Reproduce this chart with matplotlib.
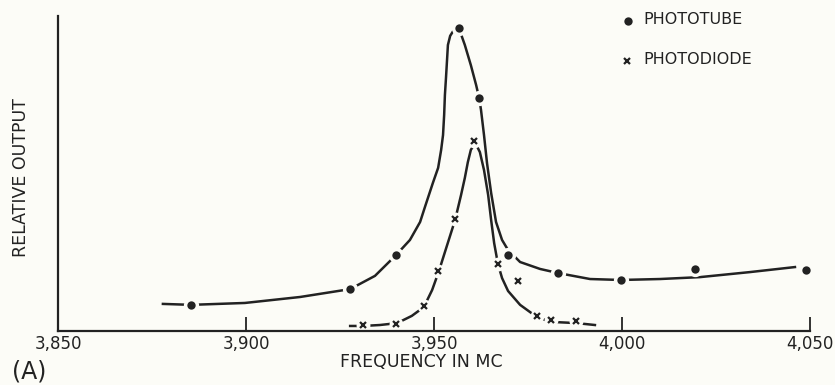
import numpy as np
import matplotlib
matplotlib.use('Agg')
import matplotlib.pyplot as plt
from matplotlib.lines import Line2D

# measured points (frequency in MC, relative output 0-100)
tube_f = [3885.4, 3927.7, 3939.9, 3956.6, 3962.0, 3969.7, 3983.0, 3999.7, 4019.4, 4048.9]
tube_y = [8.3, 13.3, 24.1, 96.2, 74.0, 24.1, 18.4, 16.2, 19.7, 19.4]

diode_f = [3931.1, 3939.9, 3947.3, 3951.1, 3955.6, 3960.6, 3967.0, 3972.3, 3977.4, 3981.1, 3987.8]
diode_y = [1.9, 2.2, 7.9, 19.0, 35.6, 60.3, 21.3, 15.9, 4.8, 3.5, 3.2]

# hand drawn curves
tube_curve_f = [3877.9, 3885.4, 3899.7, 3914.4, 3927.7, 3934.3, 3939.9, 3943.6, 3946.3, 3947.6,
                3949.7, 3951.1, 3951.9, 3952.4, 3952.7, 3952.9, 3953.2, 3953.5, 3953.7, 3954.3,
                3955.1, 3956.6, 3958.2, 3959.8, 3961.2, 3962.0, 3962.5, 3963.3, 3964.1, 3965.2,
                3966.5, 3968.1, 3969.7, 3972.9, 3978.2, 3983.0, 3991.5, 3999.7, 4010.1, 4020.7,
                4034.0, 4046.0]
tube_curve_y = [8.6, 8.3, 8.9, 10.8, 13.3, 17.5, 24.1, 28.9, 34.6, 39.4,
                47.0, 51.8, 57.5, 62.2, 68.6, 74.9, 80.6, 86.7, 90.8, 93.7,
                95.2, 96.2, 90.8, 84.4, 78.1, 74.0, 70.2, 62.2, 53.3, 43.8,
                34.6, 28.9, 25.7, 21.9, 19.7, 18.4, 16.5, 16.2, 16.5, 17.1,
                18.7, 20.3]

diode_curve_f = [3927.7, 3931.1, 3935.6, 3940.2, 3944.1, 3947.3, 3949.5, 3951.3, 3953.5, 3955.6,
                 3957.2, 3958.2, 3959.0, 3959.8, 3960.6, 3961.4, 3962.2, 3963.3, 3964.4, 3965.2,
                 3966.0, 3967.0, 3968.1, 3969.7, 3972.9, 3977.4, 3981.1, 3988.0, 3992.8]
diode_curve_y = [1.6, 1.6, 1.9, 2.5, 4.8, 7.6, 13.0, 19.0, 27.3, 35.2,
                 43.2, 48.6, 53.6, 57.5, 59.0, 58.7, 56.8, 51.1, 43.2, 35.2,
                 27.9, 21.3, 16.8, 12.7, 8.3, 4.4, 2.9, 2.5, 1.9]

xticks = [3850, 3900, 3950, 4000, 4050]
xtick_labels = ['3,850', '3,900', '3,950', '4,000', '4,050']

bg = '#fcfcf7'
ink = '#222222'

fig = plt.figure(figsize=(8.35, 3.85), dpi=100, facecolor=bg)
ax = fig.add_axes([58/835, 54/385, 752/835, 315/385])
ax.set_facecolor(bg)

ax.plot(tube_curve_f, tube_curve_y, color=ink, lw=1.8, solid_joinstyle='round')
ax.plot(diode_curve_f, diode_curve_y, color=ink, lw=1.8, solid_joinstyle='round')

# small masks so the curves break around each point, as in the original drawing
ax.plot(tube_f, tube_y, 'o', color=bg, ms=11, mew=0)
ax.plot(diode_f, diode_y, 'o', color=bg, ms=10, mew=0)
ax.plot(tube_f, tube_y, 'o', color=ink, ms=6, mew=0)
ax.plot(diode_f, diode_y, 'x', color=ink, ms=5, mew=1.6)

ax.set_xlim(3850, 4050)
ax.set_ylim(0, 100)
ax.set_xticks(xticks)
ax.set_xticklabels(xtick_labels)
ax.set_yticks([])
ax.xaxis.set_tick_params(which='major', direction='in', length=10, width=1.3,
                         color=ink, pad=3, labelsize=12, labelcolor=ink)
for t in ax.xaxis.get_major_ticks():
    t.tick1line.set_zorder(5)
for s in ['top', 'right']:
    ax.spines[s].set_visible(False)
for s in ['left', 'bottom']:
    ax.spines[s].set_linewidth(1.6)
    ax.spines[s].set_color(ink)

fig.text(0.0246, 0.539, 'RELATIVE OUTPUT', rotation=90, ha='center', va='center',
         fontsize=12.5, color=ink)
fig.text(0.504, 0.06, 'FREQUENCY IN MC', ha='center', va='center', fontsize=12.5, color=ink)
fig.text(0.014, 0.018, '(A)', ha='left', va='baseline', fontsize=17, color=ink)

# legend drawn by hand at the upper right
fig.add_artist(Line2D([628/835], [1 - 21/385], marker='o', color=ink, ms=6, mew=0,
                      transform=fig.transFigure))
fig.add_artist(Line2D([627/835], [1 - 61/385], marker='x', color=ink, ms=5, mew=1.6,
                      transform=fig.transFigure))
fig.text(643/835, 1 - 20/385, 'PHOTOTUBE', ha='left', va='center', fontsize=11.5, color=ink)
fig.text(643/835, 1 - 60/385, 'PHOTODIODE', ha='left', va='center', fontsize=11.5, color=ink)

fig.savefig('out.png', dpi=100, facecolor=bg)
